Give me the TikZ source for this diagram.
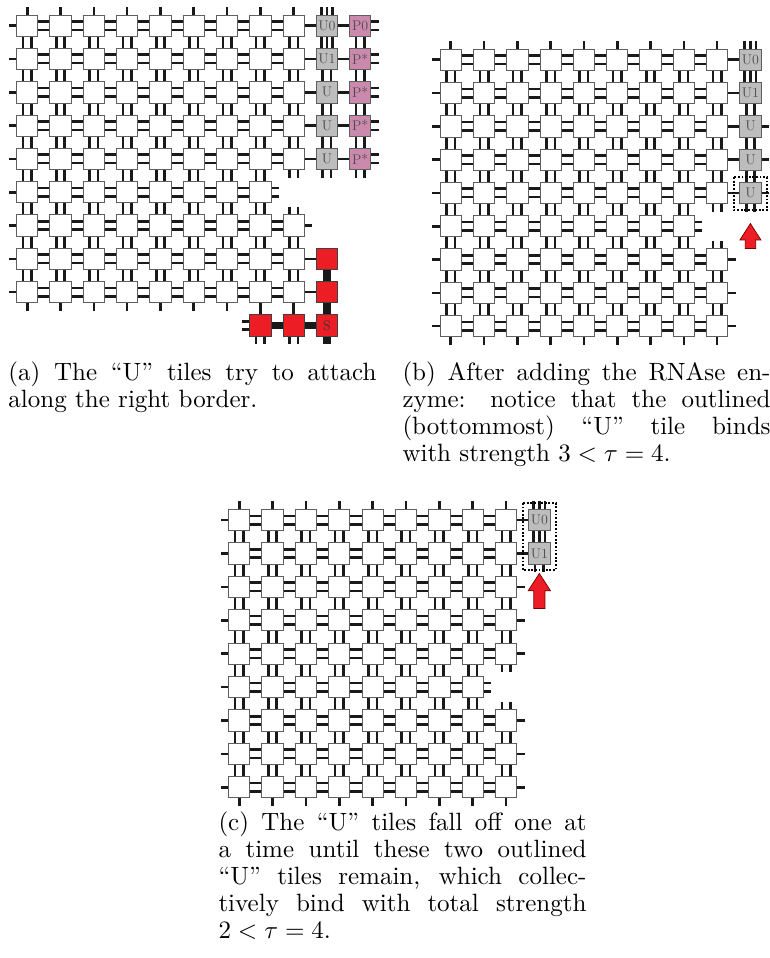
\documentclass[tikz,border=0pt]{standalone}
\usetikzlibrary{backgrounds}
\pgfdeclarelayer{bonds}
\pgfsetlayers{background,bonds,main}
\definecolor{ugray}{RGB}{189,189,189}
\definecolor{ppink}{RGB}{204,137,174}
\definecolor{rred}{RGB}{236,29,37}
\definecolor{tborder}{RGB}{95,95,95}
\definecolor{barc}{RGB}{25,25,25}
\def\sgl{0pt}
\def\dbl{4.2pt,-4.2pt}
\def\trp{5.7pt,0pt,-5.7pt}
\newcommand\bondH[3]{\foreach \o in #3{\draw[gbar] ([yshift=\o]#1.east) -- ([yshift=\o]#2.west);}}
\newcommand\bondV[3]{\foreach \o in #3{\draw[gbar] ([xshift=\o]#1.south) -- ([xshift=\o]#2.north);}}
\newcommand\tabE[2]{\foreach \o in #2{\draw[gbar] ([yshift=\o]#1.east) -- ([yshift=\o,xshift=7.5pt]#1.east);}}
\newcommand\tabW[2]{\foreach \o in #2{\draw[gbar] ([yshift=\o]#1.west) -- ([yshift=\o,xshift=-7.5pt]#1.west);}}
\newcommand\tabN[2]{\foreach \o in #2{\draw[gbar] ([xshift=\o]#1.north) -- ([xshift=\o,yshift=7.5pt]#1.north);}}
\newcommand\tabS[2]{\foreach \o in #2{\draw[gbar] ([xshift=\o]#1.south) -- ([xshift=\o,yshift=-7.5pt]#1.south);}}
\newcommand\whitegrid[1]{%
 \foreach \r in {0,...,8}{\foreach \c in {0,...,8}{%
   \pgfmathtruncatemacro\isgap{(\r==5)&&(\c==8)}%
   \ifnum\isgap=0 \node[tile] (#1-\r-\c) at (\c,\r) {};\fi}}%
}
\newcommand\whitebonds[1]{%
 \foreach \r in {0,...,8}{\foreach \c in {0,...,7}{%
   \pgfmathtruncatemacro\isgap{(\r==5)&&(\c==7)}%
   \pgfmathtruncatemacro\cn{\c+1}%
   \ifnum\isgap=0 \bondH{#1-\r-\c}{#1-\r-\cn}{\dbl}\fi}}%
 \foreach \r in {0,...,7}{\foreach \c in {0,...,8}{%
   \pgfmathtruncatemacro\isgap{(\c==8)&&((\r==4)||(\r==5))}%
   \pgfmathtruncatemacro\rn{\r+1}%
   \ifnum\isgap=0 \bondV{#1-\r-\c}{#1-\rn-\c}{\dbl}\fi}}%
 \foreach \r in {0,...,8}{\tabW{#1-\r-0}{\sgl}}%
 \foreach \c in {0,...,8}{\tabN{#1-0-\c}{\sgl}\tabS{#1-8-\c}{\sgl}}%
 \foreach \r in {0,1,2,3,4,6,7,8}{\tabE{#1-\r-8}{\sgl}}%
 \tabS{#1-4-8}{\dbl}\tabN{#1-6-8}{\dbl}\tabE{#1-5-7}{\dbl}%
}
\tikzset{
 tile/.style={draw=tborder, fill=white, line width=0.9pt, minimum size=21.3pt, inner sep=0pt,
   font=\fontsize{14}{14}\selectfont, text=black!70},
 utile/.style={tile, fill=ugray},
 ptile/.style={tile, fill=ppink},
 rtile/.style={tile, fill=rred, draw=black!75, text=black!80},
 gbar/.style={draw=barc, line width=2.6pt},
 tbar/.style={draw=barc, line width=7.5pt},
 dotbox/.style={draw=black, line width=1.8pt, dash pattern=on 1.8pt off 1.8pt},
 redarrow/.style={fill=rred, draw=red!45!black, line width=0.7pt},
 capline/.style={anchor=base west, inner sep=0pt, scale=2.5, transform shape,
   font=\fontsize{10}{12}\selectfont},
}
\begin{document}
\begin{tikzpicture}[x=1pt,y=-1pt]
\begin{pgfonlayer}{background}
\fill[white] (0,0) rectangle (770,958);
\end{pgfonlayer}
\useasboundingbox (0,0) rectangle (770,958);

% ---------------- panel (a)
\begin{scope}[shift={(27.2,25.7)},x=33.3pt,y=-33.3pt]
 \whitegrid{A}
 \foreach \r/\l in {0/U0,1/U1,2/U,3/U,4/U}{\node[utile] (A-U\r) at (9,\r) {\l};}
 \foreach \r/\l in {0/P0,1/P*,2/P*,3/P*,4/P*}{\node[ptile] (A-P\r) at (10,\r) {\l};}
 \node[rtile] (A-R1) at (9,7) {};
 \node[rtile] (A-R2) at (9,8) {};
 \node[rtile] (A-R3) at (7,9) {};
 \node[rtile] (A-R4) at (8,9) {};
 \node[rtile] (A-S) at (9,9) {S};
 \begin{pgfonlayer}{bonds}
  \whitebonds{A}
  \foreach \r in {0,...,4}{\bondH{A-\r-8}{A-U\r}{\sgl}\bondH{A-U\r}{A-P\r}{\sgl}\tabE{A-P\r}{\dbl}}
  \tabN{A-U0}{\trp}
  \bondV{A-U0}{A-U1}{\trp}
  \bondV{A-U1}{A-U2}{\dbl}\bondV{A-U2}{A-U3}{\dbl}\bondV{A-U3}{A-U4}{\dbl}
  \tabS{A-U4}{\dbl}
  \bondV{A-P0}{A-P1}{\dbl}\bondV{A-P1}{A-P2}{\dbl}\bondV{A-P2}{A-P3}{\dbl}\bondV{A-P3}{A-P4}{\dbl}
  \tabS{A-P4}{\dbl}
  \bondH{A-7-8}{A-R1}{\sgl}
  \bondH{A-8-8}{A-R2}{\sgl}
  \bondV{A-8-7}{A-R3}{\sgl}
  \bondV{A-8-8}{A-R4}{\sgl}
  \draw[tbar] (A-R1.south) -- (A-R2.north);
  \draw[tbar] (A-R2.south) -- (A-S.north);
  \draw[tbar] (A-R3.east) -- (A-R4.west);
  \draw[tbar] (A-R4.east) -- (A-S.west);
  \draw[tbar] (A-S.south) -- ([yshift=-7.5pt]A-S.south);
  \tabW{A-R3}{\dbl}\tabS{A-R3}{\dbl}\tabS{A-R4}{\dbl}
 \end{pgfonlayer}
\end{scope}

% ---------------- panel (b)
\begin{scope}[shift={(450.7,59.7)},x=33.3pt,y=-33.3pt]
 \whitegrid{B}
 \foreach \r/\l in {0/U0,1/U1,2/U,3/U,4/U}{\node[utile] (B-U\r) at (9,\r) {\l};}
 \begin{pgfonlayer}{bonds}
  \whitebonds{B}
  \foreach \r in {0,...,4}{\bondH{B-\r-8}{B-U\r}{\sgl}}
  \foreach \r in {2,3,4}{\tabE{B-U\r}{\sgl}}
  \tabN{B-U0}{\trp}
  \bondV{B-U0}{B-U1}{\trp}
  \bondV{B-U1}{B-U2}{\dbl}\bondV{B-U2}{B-U3}{\dbl}\bondV{B-U3}{B-U4}{\dbl}
  \tabS{B-U4}{\dbl}
 \end{pgfonlayer}
 \draw[dotbox] ([shift={(-16.3pt,15.8pt)}]B-U4.center) rectangle ([shift={(16.5pt,-17.2pt)}]B-U4.center);
 \coordinate (B-tip) at ([yshift=-30.6pt]B-U4.center);
 \draw[redarrow] (B-tip) -- ++(10.5pt,-16.4pt) -- ++(-5.2pt,0pt) -- ++(0pt,-8.6pt)
   -- ++(-10.6pt,0pt) -- ++(0pt,8.6pt) -- ++(-5.2pt,0pt) -- cycle;
\end{scope}

% ---------------- panel (c)
\begin{scope}[shift={(239.2,520)},x=33.35pt,y=-33.4pt]
 \whitegrid{C}
 \node[utile] (C-U0) at (9,0) {U0};
 \node[utile] (C-U1) at (9,1) {U1};
 \begin{pgfonlayer}{bonds}
  \whitebonds{C}
  \bondH{C-0-8}{C-U0}{\sgl}
  \bondH{C-1-8}{C-U1}{\sgl}
  \tabN{C-U0}{\trp}
  \bondV{C-U0}{C-U1}{\trp}
  \tabS{C-U1}{\dbl}
 \end{pgfonlayer}
 \draw[dotbox] ([shift={(-16.5pt,17pt)}]C-U0.center) rectangle ([shift={(16.5pt,-16.7pt)}]C-U1.center);
 \coordinate (C-tip) at ([yshift=-20pt]C-U1.center);
 \draw[redarrow] (C-tip) -- ++(11.2pt,-17.4pt) -- ++(-5.6pt,0pt) -- ++(0pt,-17.6pt)
   -- ++(-11.2pt,0pt) -- ++(0pt,17.6pt) -- ++(-5.6pt,0pt) -- cycle;
\end{scope}

% ---------------- captions
\node[capline] (capA1) at (8,380) {\makebox[147.2pt][s]{(a) The “U” tiles try to attach}};
\node[capline] (capA2) at (8,407) {along the right border.};
\node[capline] (capB1) at (402,380) {\makebox[147.2pt][s]{(b) After adding the RNAse en-}};
\node[capline] (capB2) at (402,407) {\makebox[147.2pt][s]{zyme: notice that the outlined}};
\node[capline] (capB3) at (402,434) {\makebox[147.2pt][s]{(bottommost) “U” tile binds}};
\node[capline] (capB4) at (402,461) {with strength $3<\tau=4$.};
\node[capline] (capC1) at (218,830) {\makebox[147.2pt][s]{(c) The “U” tiles fall off one at}};
\node[capline] (capC2) at (218,857) {\makebox[147.2pt][s]{a time until these two outlined}};
\node[capline] (capC3) at (218,884) {\makebox[147.2pt][s]{“U” tiles remain, which collec-}};
\node[capline] (capC4) at (218,911) {\makebox[147.2pt][s]{tively bind with total strength}};
\node[capline] (capC5) at (218,938) {$2<\tau=4$.};
\end{tikzpicture}
\end{document}
